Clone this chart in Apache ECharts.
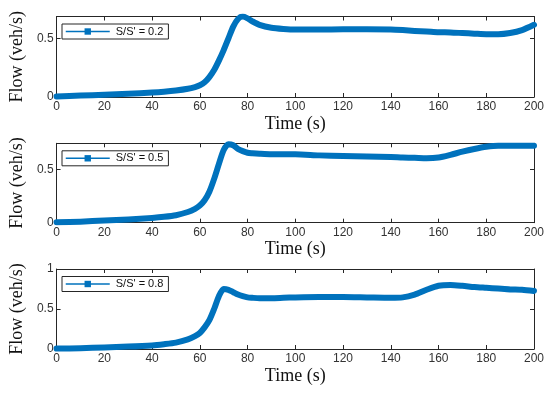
<!DOCTYPE html>
<html>
<head>
<meta charset="utf-8">
<script src="https://cdn.jsdelivr.net/npm/echarts@6/dist/echarts.min.js"></script>
<style>html,body{margin:0;padding:0;background:#fff}#c{width:550px;height:394px}</style>
</head>
<body>
<div id="c"></div>
<script>
const time = [0,10,20,30,40,45,50,55,58,60,62,64,66,68,70,72,74,76,78,80,82,85,90,95,100,110,120,130,140,145,150,155,160,165,170,175,180,185,190,195,200];
const flow02 = [0.005,0.012,0.02,0.028,0.038,0.045,0.055,0.07,0.085,0.1,0.125,0.17,0.23,0.31,0.40,0.50,0.60,0.665,0.685,0.67,0.645,0.615,0.59,0.58,0.575,0.575,0.577,0.577,0.575,0.57,0.563,0.558,0.552,0.55,0.545,0.54,0.535,0.535,0.545,0.57,0.615];
const flow05 = [0.005,0.01,0.02,0.03,0.045,0.055,0.07,0.1,0.13,0.16,0.21,0.29,0.41,0.55,0.68,0.735,0.725,0.69,0.67,0.655,0.65,0.645,0.64,0.64,0.64,0.63,0.625,0.62,0.615,0.61,0.607,0.603,0.61,0.635,0.665,0.69,0.71,0.72,0.72,0.72,0.72];
const flow08 = [0.005,0.01,0.02,0.03,0.045,0.06,0.08,0.12,0.16,0.2,0.27,0.36,0.5,0.66,0.75,0.74,0.71,0.68,0.66,0.645,0.64,0.635,0.635,0.64,0.645,0.65,0.65,0.645,0.64,0.645,0.68,0.74,0.79,0.8,0.79,0.775,0.765,0.755,0.745,0.74,0.725];
const seriesNames = ["S/S' = 0.2","S/S' = 0.5","S/S' = 0.8"];
const flows = [flow02, flow05, flow08];
const yMax = [0.686, 0.743, 1];
const yTicks = [[0,0.5],[0,0.5],[0,0.5,1]];
const xName = 'Time (s)';
const yName = 'Flow (veh/s)';

const gridTops = [16.5, 143.3, 269];
const gridHeights = [80.5, 79.4, 80];
const axisColor = '#262626';
const grid = [], xAxis = [], yAxis = [], series = [], legend = [];
for (let i = 0; i < 3; i++) {
  grid.push({left: 46, width: 488, top: gridTops[i], height: gridHeights[i]});
  xAxis.push({
    type: 'value', gridIndex: i, min: 0, max: 200, interval: 20, position: 'bottom',
    name: xName, nameLocation: 'middle', nameGap: 18,
    nameTextStyle: {fontFamily: 'Liberation Serif', fontSize: 18, color: '#111'},
    axisLine: {show: true, onZero: false, lineStyle: {color: axisColor, width: 1}},
    axisTick: {show: true, inside: true, length: 4, lineStyle: {color: axisColor}},
    axisLabel: {fontFamily: 'Liberation Sans', fontSize: 12, color: '#333', margin: 4},
    splitLine: {show: false}
  });
  xAxis.push({
    type: 'value', gridIndex: i, min: 0, max: 200, interval: 20, position: 'top',
    axisLine: {show: true, onZero: false, lineStyle: {color: axisColor, width: 1}},
    axisTick: {show: true, inside: true, length: 4, lineStyle: {color: axisColor}},
    axisLabel: {show: false}, splitLine: {show: false}
  });
  yAxis.push({
    type: 'value', gridIndex: i, min: 0, max: yMax[i], position: 'left',
    name: yName, nameLocation: 'middle', nameGap: 21, nameRotate: 90,
    nameTextStyle: {fontFamily: 'Liberation Serif', fontSize: 18, color: '#111'},
    axisLine: {show: true, onZero: false, lineStyle: {color: axisColor, width: 1}},
    axisTick: {show: true, inside: true, length: 4, customValues: yTicks[i], lineStyle: {color: axisColor}},
    axisLabel: {fontFamily: 'Liberation Sans', fontSize: 12, color: '#333', margin: 3, customValues: yTicks[i]},
    splitLine: {show: false}
  });
  yAxis.push({
    type: 'value', gridIndex: i, min: 0, max: yMax[i], position: 'right',
    axisLine: {show: true, onZero: false, lineStyle: {color: axisColor, width: 1}},
    axisTick: {show: true, inside: true, length: 4, customValues: yTicks[i], lineStyle: {color: axisColor}},
    axisLabel: {show: false}, splitLine: {show: false}
  });
  series.push({
    type: 'line', name: seriesNames[i], xAxisIndex: 2*i, yAxisIndex: 2*i,
    data: time.map((t, k) => [t, flows[i][k]]),
    symbol: 'rect', showSymbol: false, smooth: 0.25,
    lineStyle: {color: '#0072BD', width: 6, join: 'round', cap: 'round'},
    itemStyle: {color: '#0072BD'},
    animation: false
  });
  legend.push({
    data: [seriesNames[i]], left: 62, top: gridTops[i] + 7.5, orient: 'vertical',
    backgroundColor: '#fff', borderColor: axisColor, borderWidth: 1, borderRadius: 0,
    padding: [2, 5, 2, 3], itemWidth: 44, itemHeight: 8, itemGap: 0,
    lineStyle: {width: 1.5, cap: 'butt'}, selectedMode: false,
    textStyle: {fontFamily: 'Liberation Sans', fontSize: 11, color: '#111', padding: [0,0,0,1]}
  });
}
const chart = echarts.init(document.getElementById('c'), null, {renderer: 'canvas'});
chart.setOption({animation: false, grid, xAxis, yAxis, series, legend});
</script>
</body>
</html>
